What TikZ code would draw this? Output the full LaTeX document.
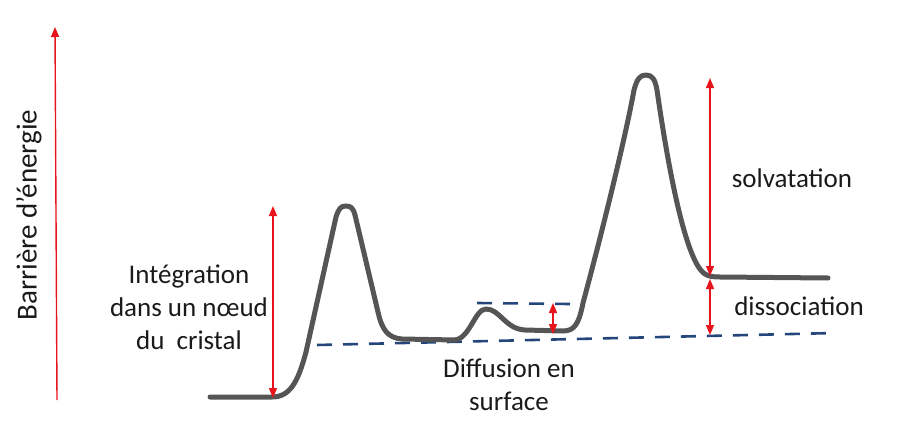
\documentclass[tikz,border=0pt]{standalone}
\usepackage{fontspec}
\setmainfont{Carlito}
\usetikzlibrary{arrows.meta}
\definecolor{curvegray}{HTML}{555555}
\definecolor{arrowred}{HTML}{E8141B}
\definecolor{dashblue}{HTML}{24467A}
\definecolor{txt}{HTML}{1A1A1A}
\tikzset{
  energy/.style={line width=5pt, color=curvegray, line join=round, line cap=round},
  redarrow/.style={line width=1.4pt, color=arrowred, {Triangle[length=10pt,width=8pt]}-{Triangle[length=10pt,width=8pt]}},
  axisarrow/.style={line width=1.4pt, color=arrowred, -{Triangle[length=10pt,width=8pt]}},
  level/.style={line width=2.6pt, color=dashblue, dash pattern=on 15pt off 11pt},
  lbl/.style={font=\fontsize{27}{33}\selectfont, text=txt, align=center, inner sep=0pt}
}
\begin{document}
\begin{tikzpicture}[x=1pt,y=-1pt]
\useasboundingbox (0,0) rectangle (900,439);
% axis
\coordinate (ax0) at (57,400);
\coordinate (ax1) at (55,27);
\draw[axisarrow] (ax0) -- (ax1);
\node[lbl, rotate=90, font=\fontsize{29}{33}\selectfont] (axlabel) at (29,215) {Barrière d’énergie};
% dashed levels
\coordinate (l1a) at (317,345);
\coordinate (l1b) at (835,333);
\draw[level] (l1a) -- (l1b);
\coordinate (l2a) at (477,303);
\coordinate (l2b) at (570,304);
\draw[level] (l2a) -- (l2b);
% energy curve
\draw[energy] (210,397) -- (272,397)
  .. controls (290,397) and (298,382) .. (306,352)
  -- (336,217)
  .. controls (339,208) and (341,206) .. (346,206)
  .. controls (351,206) and (353,208) .. (355,215)
  -- (378,312)
  .. controls (382,330) and (388,338) .. (402,339)
  -- (455,340)
  .. controls (470,338) and (475,309) .. (486,309)
  .. controls (500,309) and (505,329) .. (525,330)
  -- (563,331)
  .. controls (575,331) and (579,323) .. (583,303)
  .. controls (600,240) and (625,140) .. (634,90)
  .. controls (637,79) and (640,75) .. (646,75)
  .. controls (652,75) and (655,79) .. (657,90)
  .. controls (667,160) and (685,262) .. (705,274)
  .. controls (708,276) and (712,277) .. (720,277)
  -- (828,278);
% red double arrows
\coordinate (i0) at (273,398);
\coordinate (i1) at (273,206);
\draw[redarrow] (i0) -- (i1);
\coordinate (d0) at (553,334);
\coordinate (d1) at (553,303);
\draw[redarrow] (d0) -- (d1);
\coordinate (s0) at (710,276);
\coordinate (s1) at (710,78);
\draw[redarrow] (s0) -- (s1);
\coordinate (k0) at (710,335);
\coordinate (k1) at (710,279);
\draw[redarrow] (k0) -- (k1);
% labels
\node[lbl] (integ) at (189,307) {Intégration\\dans un nœud\\du\ \ cristal};
\node[lbl] (diff) at (509,385) {Diffusion en\\surface};
\node[lbl] (solv) at (792,178) {solvatation};
\node[lbl] (diss) at (799,306) {dissociation};
\end{tikzpicture}
\end{document}
